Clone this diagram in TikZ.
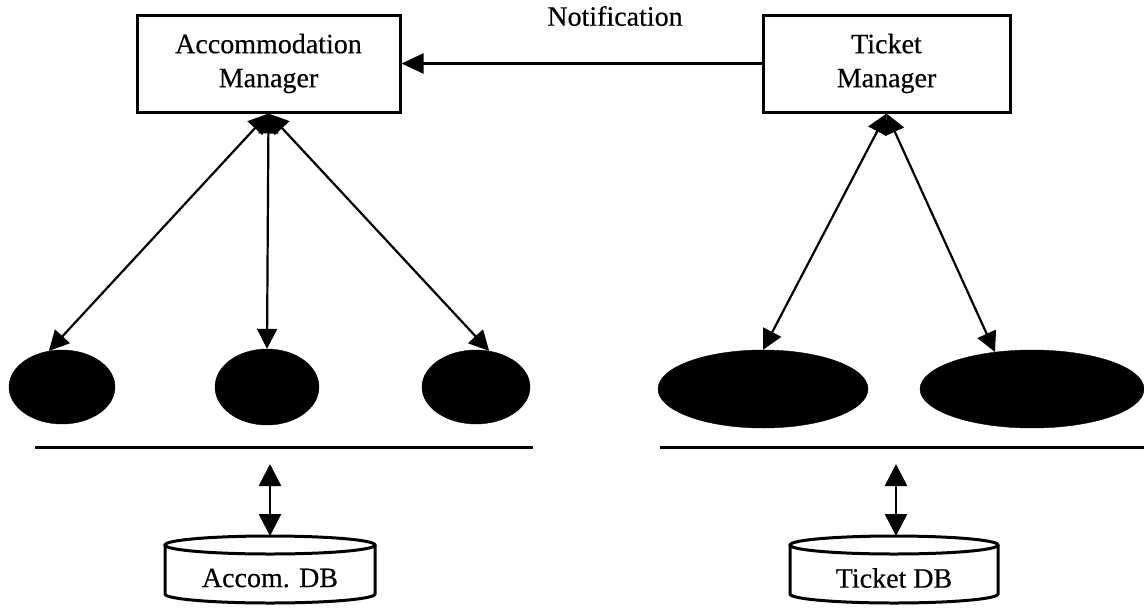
\documentclass[tikz,border=0pt]{standalone}
\usepackage{fontspec}
\setmainfont{Liberation Serif}
\newfontfamily\inkfont{Liberation Serif}[FakeBold=0.4]
\usetikzlibrary{arrows.meta,shapes.geometric}
\tikzset{
  mgr/.style={draw, line width=3pt, align=center, inner sep=0pt,
    font=\fontsize{28}{34}\inkfont},
  blob/.style={ellipse, fill=black, draw=black, inner sep=0pt},
  link/.style={line width=2.2pt, {Triangle[width=20pt,length=20pt]}-{Triangle[width=20pt,length=20pt]}},
  notify/.style={line width=2.2pt, -{Triangle[width=20pt,length=22pt]}},
  dbarrow/.style={line width=2.6pt, {Triangle[width=22pt,length=22pt]}-{Triangle[width=22pt,length=22pt]}},
  rule/.style={line width=3pt},
  dbwall/.style={draw, line width=3pt, fill=white},
  lbl/.style={font=\fontsize{28}{34}\inkfont, inner sep=0pt}
}
\begin{document}
\begin{tikzpicture}[x=1pt, y=-1pt]
\useasboundingbox (0,0) rectangle (1144,614);

% managers
\node[mgr, minimum width=263pt, minimum height=97pt] (am) at (268.5,63.5) {Accommodation\\Manager};
\node[mgr, minimum width=247pt, minimum height=97pt] (tm) at (886.5,63.5) {Ticket\\Manager};
\node[lbl] (note) at (615,16) {Notification};
\draw[notify] (tm.west) -- (am.east);

% components
\node[blob, minimum width=106pt, minimum height=74pt] (e1) at (62,387) {};
\node[blob, minimum width=104pt, minimum height=76pt] (e2) at (267,387) {};
\node[blob, minimum width=108pt, minimum height=74pt] (e3) at (476,387) {};
\node[blob, minimum width=210pt, minimum height=78pt] (e4) at (763,389) {};
\node[blob, minimum width=224pt, minimum height=78pt] (e5) at (1032,389) {};

\draw[link] (am.south) -- (e1.110);
\draw[link] (am.south) -- (e2.north);
\draw[link] (am.south) -- (e3.70);
\draw[link] (tm.south) -- (e4.north);
\draw[link] (tm.south) -- (e5.135);

% separators
\coordinate (la) at (35,447);
\coordinate (lb) at (533,447);
\coordinate (ra) at (660,447);
\coordinate (rb) at (1144,447);
\draw[rule] (la) -- (lb);
\draw[rule] (ra) -- (rb);

% databases
\path[dbwall] (165,545) -- (165,594) arc[start angle=180, end angle=360, x radius=105pt, y radius=9pt] -- (375,545);
\draw[line width=3pt] (270,545) ellipse[x radius=105pt, y radius=9pt];
\node[lbl] (adb) at (270,578) {Accom. DB};
\path[dbwall] (790,545) -- (790,594) arc[start angle=180, end angle=360, x radius=104pt, y radius=9pt] -- (998,545);
\draw[line width=3pt] (894,545) ellipse[x radius=104pt, y radius=9pt];
\node[lbl] (tdb) at (894,578) {Ticket DB};

\coordinate (atop) at (270,464);
\coordinate (aend) at (270,536);
\coordinate (ttop) at (896,464);
\coordinate (tend) at (896,536);
\draw[dbarrow] (atop) -- (aend);
\draw[dbarrow] (ttop) -- (tend);
\end{tikzpicture}
\end{document}
